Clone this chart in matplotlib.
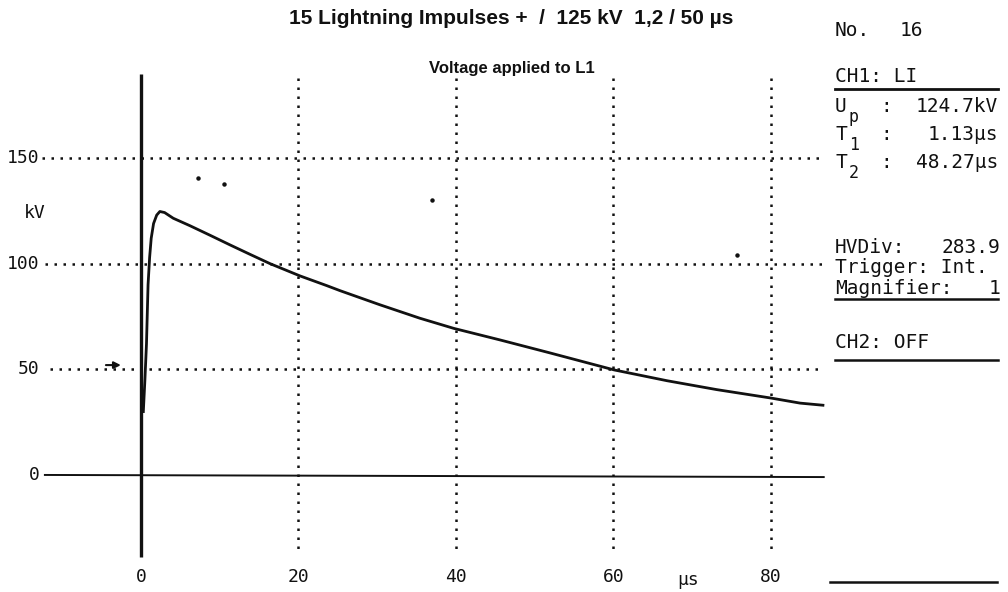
import matplotlib
matplotlib.use("Agg")
import matplotlib.pyplot as plt

# ---- data ----
time_us = [0.3, 0.5, 0.7, 0.9, 1.1, 1.3, 1.6, 2.0, 2.4, 3.0, 4.1, 6.2, 8.8, 11.3,
           13.8, 16.4, 20.2, 23.6, 25.3, 30.3, 35.4, 39.7, 45.6, 51.9, 60.1,
           66.8, 73.1, 80.0, 83.7, 86.6]
voltage_kv = [30, 45, 62, 90, 103, 112, 119, 123, 124.7, 124.2, 121.5, 118.0,
              113.4, 108.9, 104.5, 100.0, 94.2, 89.6, 87.2, 80.6, 74.2, 69.4,
              63.9, 57.8, 49.7, 44.6, 40.4, 36.4, 34.0, 33.0]
x_ticks = [0, 20, 40, 60, 80]
y_ticks = [0, 50, 100, 150]
noise_t = [7.2, 10.6, 36.9, 75.7]
noise_v = [140.5, 137.5, 130.0, 104.0]

title = "15 Lightning Impulses +  /  125 kV  1,2 / 50 \u00b5s"
subtitle = "Voltage applied to L1"

W, H = 1008, 592
fig = plt.figure(figsize=(W / 100, H / 100), dpi=100)
fig.patch.set_facecolor("white")
ax = fig.add_axes([0, 0, 1, 1])
ax.set_xlim(-17.9, 110.1)
ax.set_ylim(-55.4, 224.8)
ax.axis("off")

mono = "DejaVu Sans Mono"
ink = "#111111"

# dotted grid
for yv, x0 in zip([50, 100, 150], [-11.6, -12.2, -12.6]):
    ax.plot([x0, 86.7], [yv, yv], ls=(0, (1, 2.6)), lw=1.8, color=ink)
for xv in x_ticks[1:]:
    ax.plot([xv, xv], [188, -37], ls=(0, (1, 2.6)), lw=1.8, color=ink)

# solid axes
ax.plot([0, 0], [190, -39], lw=2.4, color=ink, solid_capstyle="butt")
ax.plot([-12.2, 86.7], [0, -1.0], lw=1.4, color=ink)

# curve
ax.plot(time_us, voltage_kv, lw=2.0, color=ink)
ax.plot(noise_t, noise_v, ls="none", marker="o", ms=2.2, color=ink)

# trigger arrow
ax.annotate("", xy=(-2.2, 52), xytext=(-4.8, 52),
            arrowprops=dict(arrowstyle="-|>", color=ink, lw=1.5,
                            mutation_scale=10))

# tick labels
for yv in y_ticks:
    ax.text(-12.9, yv, str(yv), ha="right", va="center", family=mono,
            fontsize=13, color=ink)
ax.text(-13.5, 124, "kV", ha="center", va="center", family=mono,
        fontsize=13, color=ink)
for xv in x_ticks:
    ax.text(xv, -48.5, str(xv), ha="center", va="center", family=mono,
            fontsize=13, color=ink)
ax.text(69.5, -49.5, "\u00b5s", ha="center", va="center", family=mono,
        fontsize=13, color=ink)

# titles
def fpx(x, y):
    return x / W, 1 - y / H

fig.text(*fpx(511, 19), title, ha="center", va="center",
         family="Liberation Sans", fontweight="bold", fontsize=15, color=ink)
fig.text(*fpx(512, 68), subtitle, ha="center", va="center",
         family="Liberation Sans", fontweight="bold", fontsize=12, color=ink)

# right panel
fs = 14
def ptxt(x, y, s, ha="left", size=fs):
    fig.text(*fpx(x, y), s, ha=ha, va="center", family=mono, fontsize=size,
             color=ink)

def pline(x0, x1, y, lw=1.8):
    fig.add_artist(plt.Line2D([x0 / W, x1 / W], [1 - y / H, 1 - y / H],
                              lw=lw, color=ink))

ptxt(835, 30, "No.")
ptxt(900, 30, "16")
ptxt(835, 76, "CH1: LI")
pline(835, 998, 89, lw=2.0)
ptxt(835, 106, "U")
ptxt(849, 117, "p", size=12)
ptxt(880, 106, ":")
ptxt(998, 106, "124.7kV", ha="right")
ptxt(835, 135, "T")
ptxt(849, 145, "1", size=12)
ptxt(880, 135, ":")
ptxt(998, 135, "1.13\u00b5s", ha="right")
ptxt(835, 163, "T")
ptxt(849, 173, "2", size=12)
ptxt(880, 163, ":")
ptxt(998, 163, "48.27\u00b5s", ha="right")
ptxt(835, 248, "HVDiv:")
ptxt(1000, 248, "283.9", ha="right")
ptxt(835, 268, "Trigger: Int.")
ptxt(835, 288, "Magnifier:")
ptxt(1000, 288, "1", ha="right")
pline(835, 998, 299)
ptxt(835, 342, "CH2: OFF")
pline(835, 998, 360)
pline(830, 997, 582)

fig.savefig("out.png", dpi=100, facecolor="white")
